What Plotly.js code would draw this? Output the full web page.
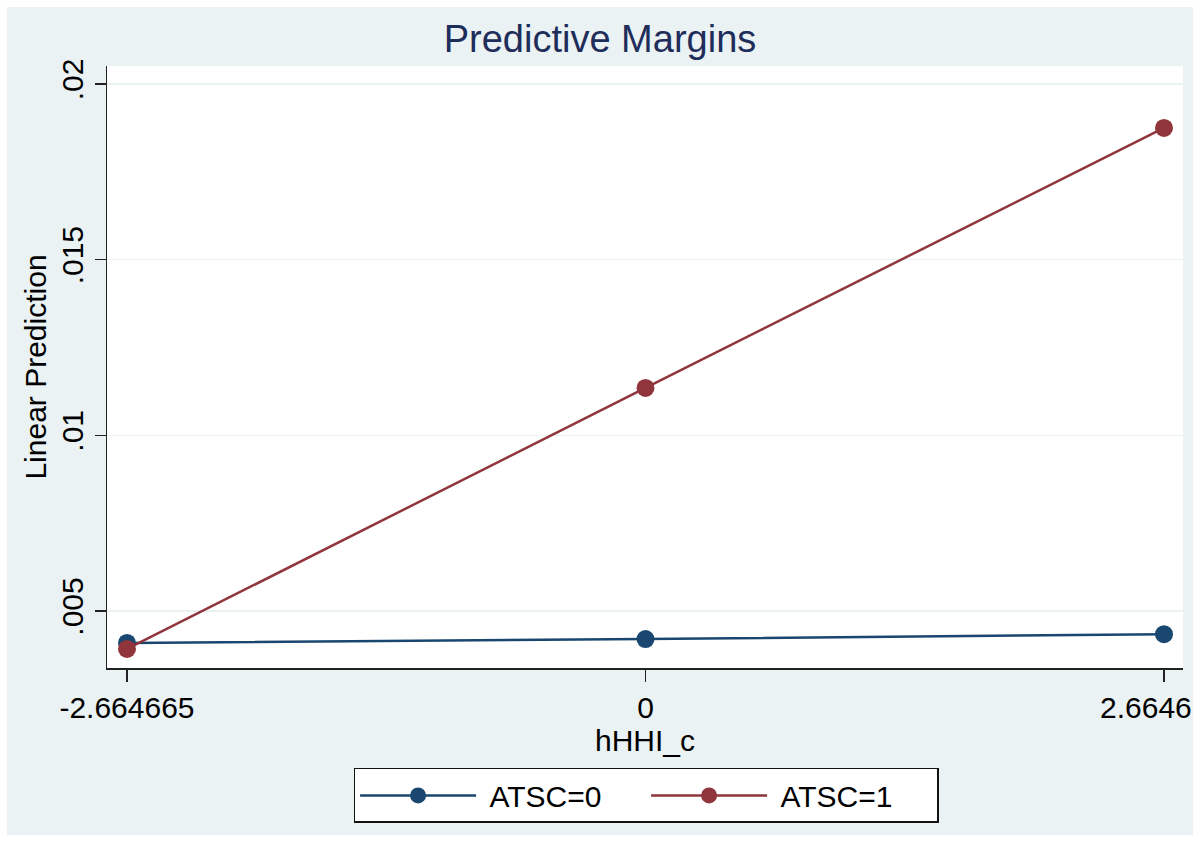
<!DOCTYPE html>
<html>
<head>
<meta charset="utf-8">
<script src="https://cdn.plot.ly/plotly-3.0.1.min.js"></script>
<style>
html,body{margin:0;padding:0;background:#ffffff;}
#chart{position:absolute;left:7px;top:7px;width:1186px;height:828px;}
</style>
</head>
<body>
<div id="chart"></div>
<script>
// Data
const xValues = [-2.664665, 0, 2.664665];
const xTickText = ["-2.664665", "0", "2.6646"];
const atsc0 = [0.00409, 0.00420, 0.00434];
const atsc1 = [0.00392, 0.01135, 0.01875];
const yTickVals = [0.005, 0.01, 0.015, 0.02];
const yTickText = [".005", ".01", ".015", ".02"];
const seriesNames = ["ATSC=0", "ATSC=1"];

const navy = "#1A476F";
const maroon = "#90353B";
const font = "Liberation Sans, Arial, sans-serif";

const traces = [
  {x: xValues, y: atsc0, name: "\u00a0" + seriesNames[0], type: "scatter", mode: "lines+markers",
   line: {color: navy, width: 2.5}, marker: {color: navy, size: 18}},
  {x: xValues, y: atsc1, name: "\u00a0" + seriesNames[1], type: "scatter", mode: "lines+markers",
   line: {color: maroon, width: 2.5}, marker: {color: maroon, size: 18}}
];

// Last tick label is drawn shifted left so it stays inside the graph (as in the reference)
const shownTickText = xTickText.map((t, i) => i === xTickText.length - 1 ? "" : t);

const layout = {
  width: 1186, height: 828,
  paper_bgcolor: "#EAF2F3", plot_bgcolor: "#ffffff",
  margin: {l: 100, r: 10, t: 59, b: 167},
  font: {family: font, size: 30, color: "#000000"},
  title: {text: "Predictive Margins", font: {family: font, size: 38, color: "#1E2D5A"},
          x: 0.5, xanchor: "center", y: 0.978, yanchor: "top"},
  xaxis: {
    range: [-2.7674, 2.7623], tickmode: "array", tickvals: xValues, ticktext: shownTickText,
    showgrid: false, zeroline: false, showline: true, linecolor: "#222222", linewidth: 1.5,
    ticks: "outside", ticklen: 12, tickwidth: 1.5, tickcolor: "#222222",
    tickfont: {family: font, size: 30, color: "#000000"}, ticklabeloverflow: "allow",
    title: {text: "hHHI_c", font: {family: font, size: 30, color: "#000000"}, standoff: 2},
    automargin: false
  },
  yaxis: {
    range: [0.003377, 0.020512], tickmode: "array", tickvals: yTickVals, ticktext: yTickText,
    showgrid: true, gridcolor: "#EAF2F3", gridwidth: 1.5, zeroline: false,
    showline: true, linecolor: "#222222", linewidth: 1.5,
    ticks: "outside", ticklen: 11, tickwidth: 1.5, tickcolor: "#222222", tickangle: -90,
    tickfont: {family: font, size: 30, color: "#000000"}, ticklabeloverflow: "allow",
    title: {text: "Linear Prediction", font: {family: font, size: 30, color: "#000000"}, standoff: 0},
    automargin: false
  },
  annotations: [{
    text: xTickText[xTickText.length - 1], xref: "x", yref: "paper",
    x: xValues[xValues.length - 1], y: 0, xanchor: "right", yanchor: "top",
    xshift: 30, yshift: -21, showarrow: false,
    font: {family: font, size: 30, color: "#000000"}
  }],
  showlegend: true,
  legend: {
    orientation: "h", xref: "paper", x: 0.501, xanchor: "center",
    yref: "container", y: 0.081, yanchor: "top",
    bgcolor: "#ffffff", bordercolor: "#111111", borderwidth: 1.5,
    font: {family: font, size: 30, color: "#000000"},
    itemwidth: 116, entrywidth: 160, traceorder: "normal"
  }
};

Plotly.newPlot("chart", traces, layout, {displayModeBar: false, staticPlot: true});
</script>
</body>
</html>
